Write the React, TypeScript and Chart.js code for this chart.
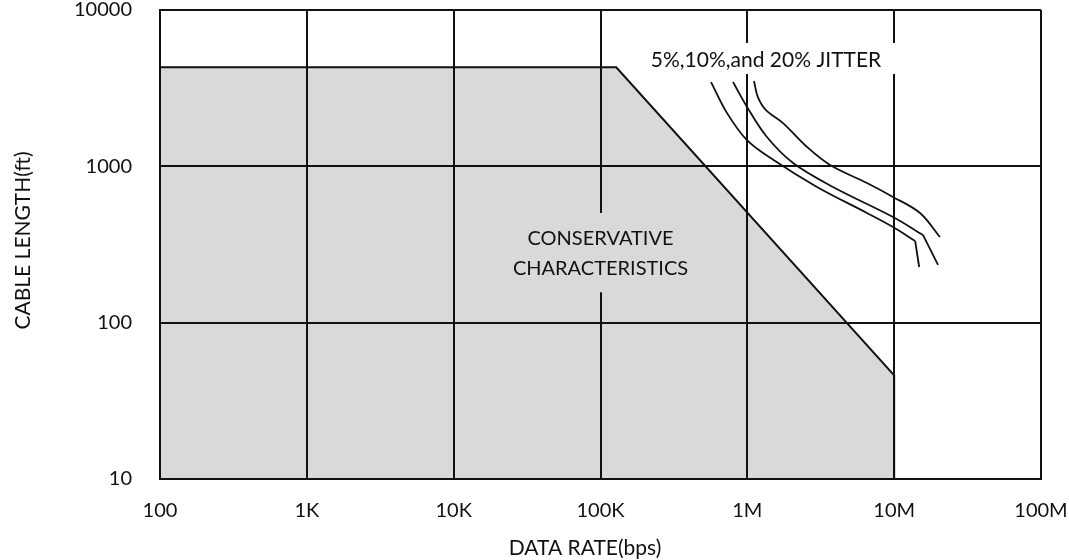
import React, { useEffect, useRef } from "react";
import { Chart, registerables } from "chart.js";

Chart.register(...registerables);

const xTicks = [1e2, 1e3, 1e4, 1e5, 1e6, 1e7, 1e8];
const xTickLabels = ["100", "1K", "10K", "100K", "1M", "10M", "100M"];
const yTicks = [10, 100, 1000, 10000];
const yTickLabels = ["10", "100", "1000", "10000"];

const xTitle = "DATA RATE(bps)";
const yTitle = "CABLE LENGTH(ft)";
const jitterLabel = "5%,10%,and 20% JITTER";
const regionLabel = ["CONSERVATIVE", "CHARACTERISTICS"];

// conservative region outline
const regionX = [100, 128000, 1e7, 1e7];
const regionY = [4300, 4300, 46, 10];

// jitter curves (smooth part + straight tail)
const jitterAX = [566e3, 728e3, 995e3, 1.5e6, 2.98e6, 6.53e6, 9.82e6, 13.9e6];
const jitterAY = [3460, 2190, 1470, 1100, 738, 503, 409, 333];
const jitterATailX = [13.9e6, 14.8e6];
const jitterATailY = [333, 227];

const jitterBX = [799e3, 995e3, 1.36e6, 2.05e6, 3.83e6, 9.82e6, 15.7e6];
const jitterBY = [3460, 2400, 1540, 1050, 738, 474, 364];
const jitterBTailX = [15.7e6, 19.9e6];
const jitterBTailY = [364, 234];

const jitterCX = [1.11e6, 1.18e6, 1.34e6, 1.75e6, 2.55e6, 3.66e6, 6.53e6, 9.82e6, 15.0e6, 20.5e6];
const jitterCY = [3515, 2775, 2290, 1890, 1330, 1020, 782, 637, 503, 353];

const FONT = "Lato, 'Open Sans', sans-serif";
const INK = "#111";

const zip = (xs: number[], ys: number[]) => xs.map((x, i) => ({ x, y: ys[i] }));

const curve = (xs: number[], ys: number[], smooth: boolean) => ({
  data: zip(xs, ys),
  showLine: true,
  borderColor: INK,
  borderWidth: 1.8,
  pointRadius: 0,
  fill: false,
  tension: smooth ? 0.35 : 0,
});

const annotations = {
  id: "annotations",
  afterDraw(chart: any) {
    const { ctx, scales, chartArea } = chart;
    const xs = scales.x;
    const ys = scales.y;
    ctx.save();
    ctx.textAlign = "center";
    ctx.textBaseline = "middle";

    // Jitter label box
    const jx = xs.getPixelForValue(1.34e6);
    const jy = ys.getPixelForValue(4790);
    ctx.font = `21px ${FONT}`;
    const jw = ctx.measureText(jitterLabel).width;
    ctx.fillStyle = "#ffffff";
    ctx.fillRect(jx - jw / 2 - 22, jy - 17, jw + 44, 31);
    ctx.fillStyle = INK;
    ctx.fillText(jitterLabel, jx, jy);

    // Conservative label
    const cx = xs.getPixelForValue(1e5);
    const cy1 = ys.getPixelForValue(343);
    const cy2 = ys.getPixelForValue(223);
    ctx.fillStyle = "#d9d9d9";
    ctx.fillRect(cx - 95, cy1 - 26, 190, cy2 - cy1 + 50);
    ctx.fillStyle = INK;
    ctx.font = `20px ${FONT}`;
    ctx.fillText(regionLabel[0], cx, cy1);
    ctx.fillText(regionLabel[1], cx, cy2);

    // Axis titles
    ctx.font = `21px ${FONT}`;
    ctx.fillText(xTitle, 585, 548);
    ctx.translate(23, (chartArea.top + chartArea.bottom) / 2 - 4);
    ctx.rotate(-Math.PI / 2);
    ctx.fillText(yTitle, 0, 0);
    ctx.restore();
  },
};

export default function App() {
  const ref = useRef<HTMLCanvasElement | null>(null);
  useEffect(() => {
    if (!ref.current) return;
    const chart = new Chart(ref.current, {
      type: "scatter",
      data: {
        datasets: [
          {
            data: zip(regionX, regionY),
            showLine: true,
            fill: "start",
            backgroundColor: "#d9d9d9",
            borderColor: INK,
            borderWidth: 2,
            pointRadius: 0,
            tension: 0,
          } as any,
          curve(jitterAX, jitterAY, true),
          curve(jitterATailX, jitterATailY, false),
          curve(jitterBX, jitterBY, true),
          curve(jitterBTailX, jitterBTailY, false),
          curve(jitterCX, jitterCY, true),
        ],
      },
      options: {
        animation: false,
        responsive: false,
        layout: { padding: { left: 0, right: 28, top: 10, bottom: 0 } },
        plugins: { legend: { display: false }, tooltip: { enabled: false } },
        scales: {
          x: {
            type: "logarithmic",
            min: 100,
            max: 1e8,
            afterBuildTicks: (s: any) => {
              s.ticks = xTicks.map((v) => ({ value: v }));
            },
            afterFit: (s: any) => {
              s.height = 81;
              s.paddingLeft = 0;
              s.paddingRight = 0;
            },
            ticks: {
              autoSkip: false,
              maxRotation: 0,
              minRotation: 0,
              padding: 20,
              color: INK,
              font: { family: FONT, size: 20 },
              callback: (v: any) => {
                const i = xTicks.indexOf(Number(v));
                return i >= 0 ? xTickLabels[i] : "";
              },
            },
            grid: { color: INK, lineWidth: 2, drawTicks: false, z: 1 },
            border: { display: true, color: INK, width: 2, z: 1 },
            title: { display: false },
          },
          y: {
            type: "logarithmic",
            min: 10,
            max: 10000,
            afterBuildTicks: (s: any) => {
              s.ticks = yTicks.map((v) => ({ value: v }));
            },
            afterFit: (s: any) => {
              s.width = 160;
              s.paddingTop = 0;
              s.paddingBottom = 0;
            },
            ticks: {
              autoSkip: false,
              padding: 28,
              color: INK,
              font: { family: FONT, size: 20 },
              callback: (v: any) => {
                const i = yTicks.indexOf(Number(v));
                return i >= 0 ? yTickLabels[i] : "";
              },
            },
            grid: { color: INK, lineWidth: 2, drawTicks: false, z: 1 },
            border: { display: true, color: INK, width: 2, z: 1 },
            title: { display: false },
          },
        },
      },
      plugins: [annotations],
    });
    return () => chart.destroy();
  }, []);
  return (
    <div style={{ position: "absolute", left: 0, top: 0, width: 1069, height: 560, background: "#fff" }}>
      <canvas ref={ref} width={1069} height={560} />
    </div>
  );
}
